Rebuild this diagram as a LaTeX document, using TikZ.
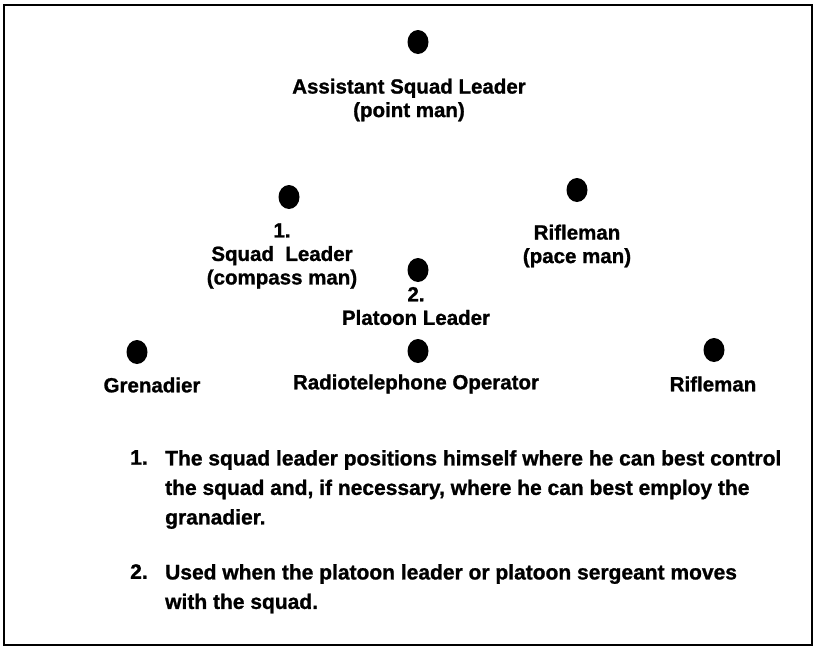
\documentclass[tikz,border=0pt]{standalone}
\usepackage{fontspec}
\setmainfont{Liberation Sans}
\newfontfamily\heavy[FakeBold=1.1]{Liberation Sans Bold}
\begin{document}
\begin{tikzpicture}[x=1pt,y=-1pt,
  lbl/.style={font=\heavy\fontsize{20.5}{23.5}\selectfont,align=center,inner sep=0pt,anchor=center},
  note/.style={font=\heavy\fontsize{21}{29.5}\selectfont,align=left,inner sep=0pt,anchor=north west}]
\useasboundingbox (0,0) rectangle (817,649);
\draw[line width=2.8pt] (4,5) rectangle (812,645);

% positions of the squad members
\fill (418,42) ellipse (10.5 and 12) coordinate (asl);
\node[lbl] (aslt) at (409,100) {Assistant Squad Leader\\(point man)};

\fill (289,197) ellipse (10.5 and 12) coordinate (sl);
\node[lbl] (slt) at (282,256) {1.\\Squad\ \ Leader\\(compass man)};

\fill (577,190) ellipse (10.5 and 12) coordinate (rp);
\node[lbl] (rpt) at (577,246) {Rifleman\\(pace man)};

\fill (418,270) ellipse (10.5 and 12) coordinate (pl);
\node[lbl] (plt) at (416,306) {2.\\Platoon Leader};

\fill (137,352) ellipse (10.5 and 12) coordinate (gr);
\node[lbl] (grt) at (152,385) {Grenadier};

\fill (418,351) ellipse (10.5 and 12) coordinate (rto);
\node[lbl] (rtot) at (416,384) {Radiotelephone Operator};

\fill (714,350) ellipse (10.5 and 12) coordinate (rf);
\node[lbl] (rft) at (713,384) {Rifleman};

% footnotes
\node[note] (n1) at (130,450) {1.};
\node[note] (n1t) at (165,450) {The squad leader positions himself where he can best control\\the squad and, if necessary, where he can best employ the\\granadier.};
\node[note] (n2) at (130,564) {2.};
\node[note] (n2t) at (165,564) {Used when the platoon leader or platoon sergeant moves\\with the squad.};
\end{tikzpicture}
\end{document}
